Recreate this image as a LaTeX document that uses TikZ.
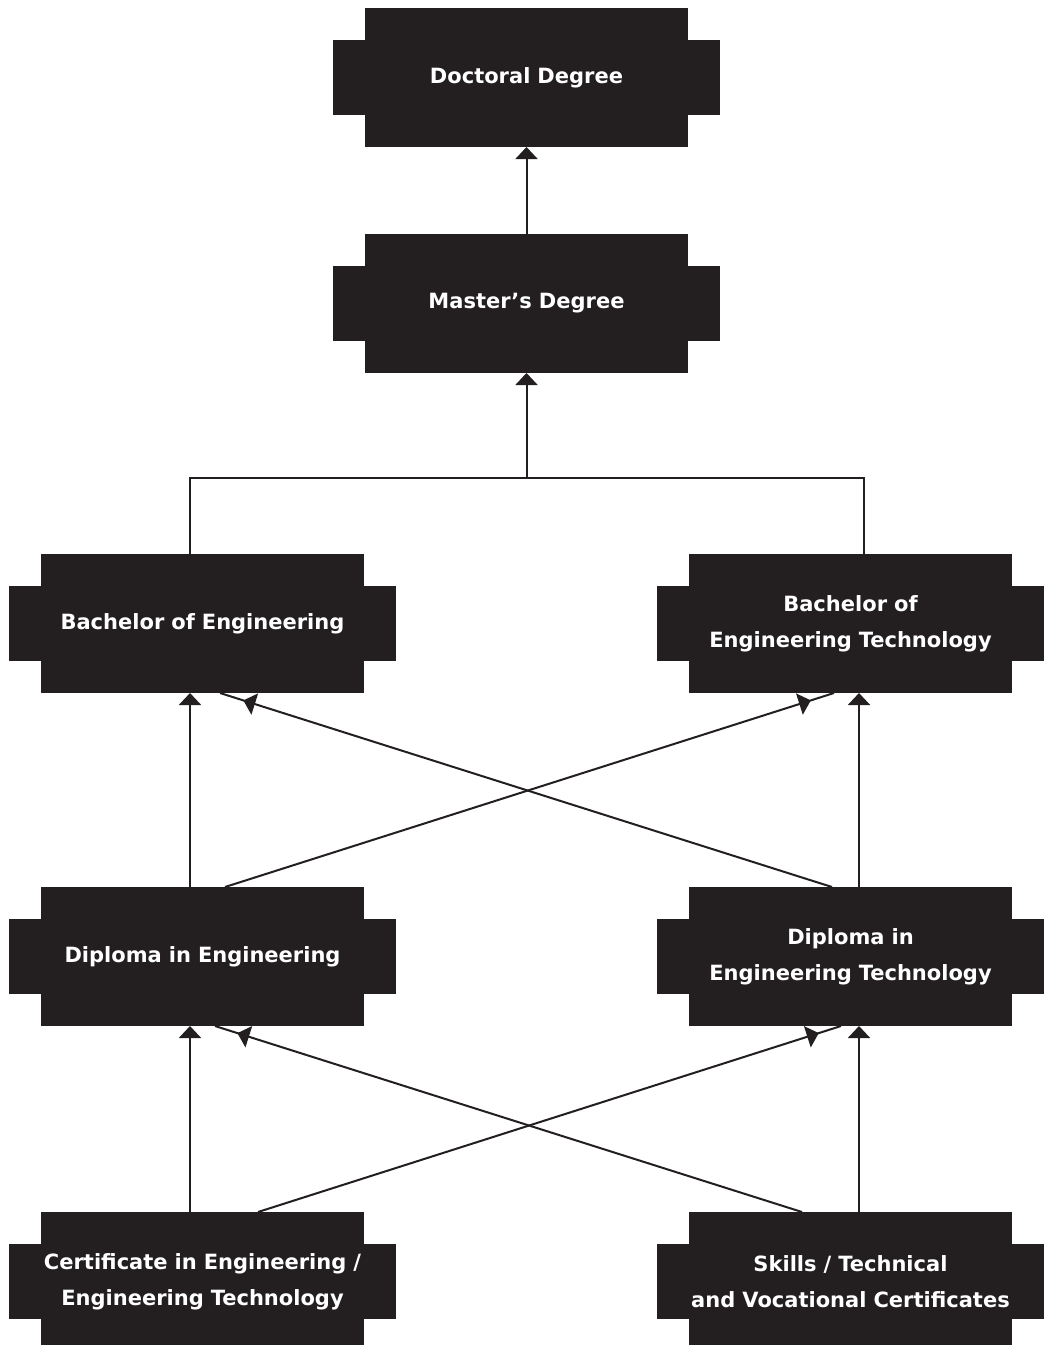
\documentclass[tikz,border=0pt]{standalone}
\usepackage{fontspec}
\setmainfont{DejaVu Sans}
\usetikzlibrary{matrix,arrows.meta,decorations.markings,backgrounds}
\definecolor{boxfill}{HTML}{231F20}

\begin{document}
\begin{tikzpicture}[line width=2pt, draw=boxfill,
  degree/.style={rectangle, fill=boxfill, text=white, inner sep=0pt, outer sep=0pt,
    minimum width=323pt, minimum height=139pt, text width=323pt, align=center, anchor=center,
    font=\bfseries\fontsize{21}{36}\selectfont},
  up/.style={-{Triangle[width=22pt,length=12pt]}},
  cross/.style={postaction={decorate}, decoration={markings,
    mark=at position 0.962 with {\arrow{Triangle[width=22pt,length=12pt]}}}}]
\useasboundingbox (0,0) rectangle (1044pt,-1345pt);
\matrix (m) [matrix of nodes, nodes={degree}, column sep=1pt, inner sep=0pt, anchor=north] at (526.5pt,-7pt)
{
 & Doctoral Degree & \\[87pt]
 & Master’s Degree & \\[181pt]
Bachelor of Engineering & & {Bachelor of\\Engineering Technology} \\[194pt]
Diploma in Engineering & & {Diploma in\\Engineering Technology} \\[186pt]
{Certificate in Engineering /\\Engineering Technology} & & {Skills / Technical\\and Vocational Certificates} \\
};
% the wide middle band of every box
\begin{scope}[on background layer]
\foreach \r/\c in {1/2,2/2,3/1,3/3,4/1,4/3,5/1,5/3}{
\fill[boxfill] ([shift={(-32pt,-32pt)}]m-\r-\c.north west) rectangle ([shift={(32pt,32pt)}]m-\r-\c.south east);};
\end{scope}
\coordinate (bus) at ([yshift=-105pt]m-2-2.south);
\draw[boxfill, up] (m-2-2.north) -- (m-1-2.south);
\draw[boxfill, up] (bus) -- (m-2-2.south);
\draw[boxfill] ([xshift=-12.5pt]m-3-1.north) |- (bus) -| ([xshift=13.5pt]m-3-3.north);

\draw[boxfill, up] ([xshift=-12.5pt]m-4-1.north) -- ([xshift=-12.5pt]m-3-1.south);
\draw[boxfill, up] ([xshift=8.5pt]m-4-3.north) -- ([xshift=8.5pt]m-3-3.south);
\draw[boxfill, cross] ([xshift=22.5pt]m-4-1.north) -- ([xshift=-16.5pt]m-3-3.south);
\draw[boxfill, cross] ([xshift=-18.5pt]m-4-3.north) -- ([xshift=17.5pt]m-3-1.south);

\draw[boxfill, up] ([xshift=-12.5pt]m-5-1.north) -- ([xshift=-12.5pt]m-4-1.south);
\draw[boxfill, up] ([xshift=8.5pt]m-5-3.north) -- ([xshift=8.5pt]m-4-3.south);
\draw[boxfill, cross] ([xshift=55.5pt]m-5-1.north) -- ([xshift=-9.5pt]m-4-3.south);
\draw[boxfill, cross] ([xshift=-48.5pt]m-5-3.north) -- ([xshift=12.5pt]m-4-1.south);
\end{tikzpicture}
\end{document}
